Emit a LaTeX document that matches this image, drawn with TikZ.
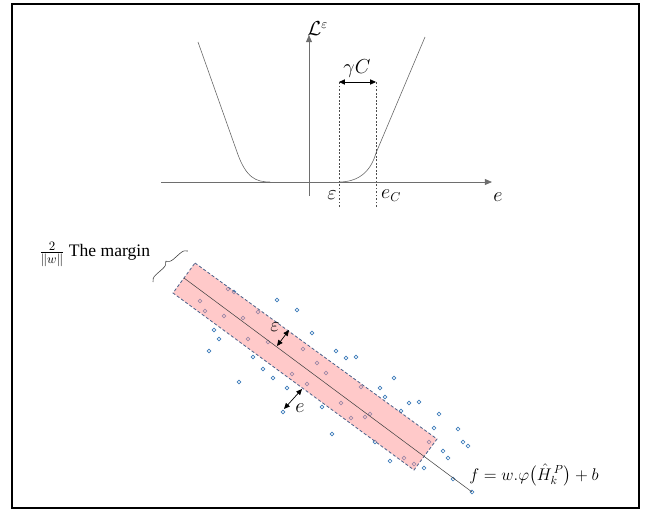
\documentclass[tikz,border=0pt]{standalone}
\usepackage{amsmath}
\usepackage{fontspec}
\setmainfont{Liberation Serif}
\usepackage{xcolor}
\usetikzlibrary{arrows.meta,decorations.pathreplacing}

\definecolor{bandpink}{RGB}{255,148,148}
\definecolor{bandedge}{RGB}{78,100,140}
\definecolor{dotblue}{RGB}{62,124,186}
\definecolor{axisgray}{RGB}{110,110,110}

\begin{document}
\begin{tikzpicture}[
  x=0.03cm, y=-0.03cm,
  font=\fontsize{16}{19}\selectfont,
  % ---- lines -------------------------------------------------------------
  axis/.style={draw=axisgray, line width=0.7pt, -{Triangle[length=6pt,width=5pt]}},
  loss/.style={draw=black!60, line width=0.5pt},
  guide/.style={draw=black!70, line width=0.35pt, dash pattern=on 1.6pt off 1.4pt},
  span/.style={draw=black, line width=0.6pt, {Triangle[length=5pt,width=4.4pt]}-{Triangle[length=5pt,width=4.4pt]}},
  % ---- band --------------------------------------------------------------
  band/.style={fill=bandpink, fill opacity=0.5, draw=bandedge, line width=0.7pt,
    dash pattern=on 2.6pt off 1.8pt, draw opacity=1},
  sample/.style={draw=dotblue, line width=0.5pt},
  lbl/.style={inner sep=1pt},
]

% ---- frame -----------------------------------------------------------------
\useasboundingbox (0,0) rectangle (655,510);
\draw[line width=0.9pt] (12,4) rectangle (639,508);

% ---- epsilon-insensitive loss ----------------------------------------------
\coordinate (xstart) at (161,182);
\coordinate (xend)   at (492,182);
\coordinate (ystart) at (309,196);
\coordinate (yend)   at (309,35);
\draw[axis] (xstart) -- (xend);
\draw[axis] (ystart) -- (yend);
\node[lbl, anchor=south west] (lossname) at (306,37) {$\mathcal{L}^{\varepsilon}$};
\node[lbl] (elabel) at (498,197) {$e$};

% loss curve: left branch, flat part, right branch
\draw[loss] (198,42) -- (237,152) .. controls (246,178) and (256,182) .. (270,182);
\draw[loss] (339,182) .. controls (356,182) and (370,174) .. (376,153) -- (425,37);

% tube limits
\coordinate (epsbot) at (339,207);
\coordinate (epstop) at (339,82);
\coordinate (ecbot)  at (376,207);
\coordinate (ectop)  at (376,82);
\draw[guide] (epsbot) -- (epstop);
\draw[guide] (ecbot) -- (ectop);
\draw[span] (epstop) -- (ectop);
\node[lbl] (gammac) at (357,69) {$\gamma C$};
\node[lbl] (epsaxis) at (332,195) {$\varepsilon$};
\node[lbl] (ecaxis)  at (391,196) {$e_C$};

% ---- samples (drawn before the tube so the tube tints them) ----------------
\foreach \px/\py in {228/289, 234/292, 200/301, 205/311, 224/316, 243/318, 258/312,
    277/300, 297/310, 214/330, 219/339, 248/339, 268/342, 312/333, 209/351,
    253/357, 303/349, 336/351, 346/358, 356/357, 263/369, 317/363, 326/373,
    292/374, 273/378, 239/382, 287/388, 307/384, 394/378, 380/388, 361/387,
    385/397, 409/403, 419/402, 401/411, 341/403, 322/407, 283/412, 370/414,
    365/417, 351/418, 439/414, 434/428, 458/429, 463/442, 468/446, 332/434,
    429/442, 375/442, 443/451, 448/458, 404/458, 390/461, 414/464, 424/468,
    453/479, 472/492}
  { \draw[sample] (\px,\py) circle (1.9); }

% ---- regression tube -------------------------------------------------------
\coordinate (tl) at (195,263);
\coordinate (bl) at (173,293);
\coordinate (br) at (414,470);
\coordinate (tr) at (437,439);
\filldraw[band] (tl) -- (tr) -- (br) -- (bl) -- cycle;

\coordinate (fitstart) at (184,278);
\coordinate (fitend)   at (472,492);
\draw[draw=black!75, line width=0.45pt] (fitstart) -- (fitend);

% tube half-width and error
\coordinate (epsin)  at (277,346);
\coordinate (epsout) at (289,330);
\draw[span] (epsin) -- (epsout);
\node[lbl] (epsband) at (275,327) {$\varepsilon$};

\coordinate (errin)  at (302,389);
\coordinate (errout) at (284,409);
\draw[span] (errin) -- (errout);
\node[lbl] (errlabel) at (300,408) {$e$};

% ---- margin ----------------------------------------------------------------
\draw[draw=black!75, line width=0.5pt,
  decorate, decoration={brace, amplitude=6pt}] (153,282) -- (188,251);
\node[lbl, anchor=west, font=\fontsize{15}{18}\selectfont] (margin) at (38,254)
  {$\frac{2}{\|w\|}$ The margin};

% ---- model -----------------------------------------------------------------
\node[lbl, font=\fontsize{14.5}{17}\selectfont] (model) at (534,475)
  {$f = w.\varphi\bigl({\hat{H}}^{\,P}_{k}\bigr) + b$};

\end{tikzpicture}
\end{document}
